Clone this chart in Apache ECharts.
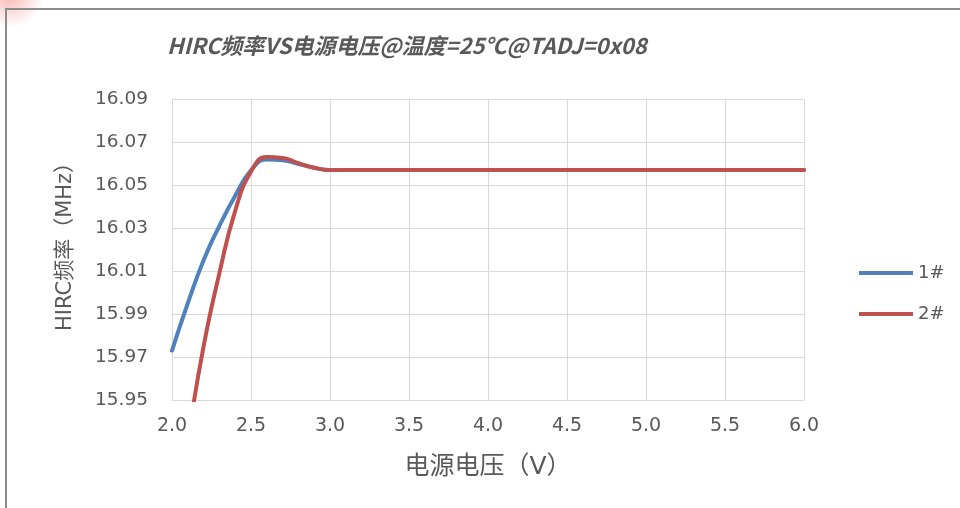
<!DOCTYPE html>
<html>
<head>
<meta charset="utf-8">
<title>HIRC频率VS电源电压</title>
<script src="https://cdn.jsdelivr.net/npm/echarts@6/dist/echarts.min.js"></script>
<style>
  html, body { margin: 0; padding: 0; background: #ffffff; }
  #chart { width: 960px; height: 508px; }
</style>
</head>
<body>
<div id="chart"></div>
<script>
// Supply voltage (V) for each measurement
const voltage = [2.0, 2.1, 2.2, 2.3, 2.4, 2.5, 2.6, 2.7, 2.8, 2.9, 3.0, 3.5, 4.0, 4.5, 5.0, 5.5, 6.0];
// HIRC frequency (MHz), sample 1#
const freq1 = [15.973, 15.995, 16.015, 16.031, 16.045, 16.0568, 16.0619, 16.0615, 16.0598, 16.058, 16.057, 16.057, 16.057, 16.057, 16.057, 16.057, 16.057];
// HIRC frequency (MHz), sample 2#
const freq2 = [15.889, 15.932, 15.975, 16.009, 16.038, 16.0562, 16.063, 16.0626, 16.0602, 16.058, 16.057, 16.057, 16.057, 16.057, 16.057, 16.057, 16.057];
const seriesNames = ['1#', '2#'];
// Frequency axis tick values
const yTicks = [15.95, 15.97, 15.99, 16.01, 16.03, 16.05, 16.07, 16.09];

const pair = (xs, ys) => xs.map((x, i) => [x, ys[i]]);

const labelFont = "'DejaVu Sans', 'Noto Sans CJK SC', sans-serif";
const textGray = '#595959';
const gridGray = '#d9d9d9';

const chart = echarts.init(document.getElementById('chart'), null, { renderer: 'canvas' });

chart.setOption({
  animation: false,
  backgroundColor: '#ffffff',
  graphic: [
    {
      type: 'circle',
      z: -1,
      shape: { cx: 10, cy: -6, r: 34 },
      style: {
        fill: new echarts.graphic.RadialGradient(0.5, 0.5, 0.5, [
          { offset: 0, color: 'rgba(240,90,90,0.45)' },
          { offset: 1, color: 'rgba(240,90,90,0)' }
        ])
      }
    },
    {
      type: 'rect',
      z: 0,
      shape: { x: 6, y: 9, width: 1000, height: 600 },
      style: { fill: 'none', stroke: '#8c8c8c', lineWidth: 2 }
    }
  ],
  title: {
    text: 'HIRC频率VS电源电压@温度=25℃@TADJ=0x08',
    left: 167,
    top: 35,
    padding: 0,
    textStyle: {
      fontFamily: "'Noto Sans CJK SC', sans-serif",
      fontSize: 22,
      fontWeight: 'bold',
      fontStyle: 'italic',
      color: textGray
    }
  },
  legend: {
    orient: 'vertical',
    left: 854,
    top: 259,
    icon: 'rect',
    itemWidth: 54,
    itemHeight: 4,
    itemGap: 23,
    textStyle: { fontFamily: labelFont, fontSize: 18, color: textGray },
    data: seriesNames
  },
  grid: {
    left: 172,
    right: 156,
    top: 99,
    bottom: 108,
    containLabel: false
  },
  xAxis: {
    type: 'value',
    min: 2,
    max: 6,
    interval: 0.5,
    name: '电源电压（V）',
    nameLocation: 'middle',
    nameGap: 55,
    nameTextStyle: { fontFamily: labelFont, fontSize: 25, color: textGray },
    axisLine: { show: true, lineStyle: { color: gridGray, width: 1 } },
    axisTick: { show: false },
    splitLine: { show: true, lineStyle: { color: gridGray, width: 1 } },
    axisLabel: {
      fontFamily: labelFont,
      fontSize: 19,
      color: textGray,
      margin: 17,
      formatter: v => v.toFixed(1)
    }
  },
  yAxis: {
    type: 'value',
    min: 15.95,
    max: 16.09,
    name: 'HIRC频率（MHz）',
    nameLocation: 'middle',
    nameRotate: 90,
    nameGap: 96,
    nameTextStyle: { fontFamily: labelFont, fontSize: 21, color: textGray, padding: [0, 0, 0, 16] },
    axisLine: { show: false },
    axisTick: { show: false, customValues: yTicks },
    splitLine: { show: true, lineStyle: { color: gridGray, width: 1 } },
    axisLabel: {
      customValues: yTicks,
      fontFamily: labelFont,
      fontSize: 18.5,
      color: textGray,
      margin: 24,
      formatter: v => v.toFixed(2)
    }
  },
  series: [
    {
      name: seriesNames[0],
      type: 'line',
      data: pair(voltage, freq1),
      smooth: 0.5,
      symbol: 'none',
      clip: true,
      lineStyle: { width: 4, color: '#4F81BD', cap: 'round' },
      itemStyle: { color: '#4F81BD' }
    },
    {
      name: seriesNames[1],
      type: 'line',
      data: pair(voltage, freq2),
      smooth: 0.5,
      symbol: 'none',
      clip: true,
      lineStyle: { width: 4, color: '#C0504D', cap: 'round' },
      itemStyle: { color: '#C0504D' }
    }
  ]
});
</script>
</body>
</html>
